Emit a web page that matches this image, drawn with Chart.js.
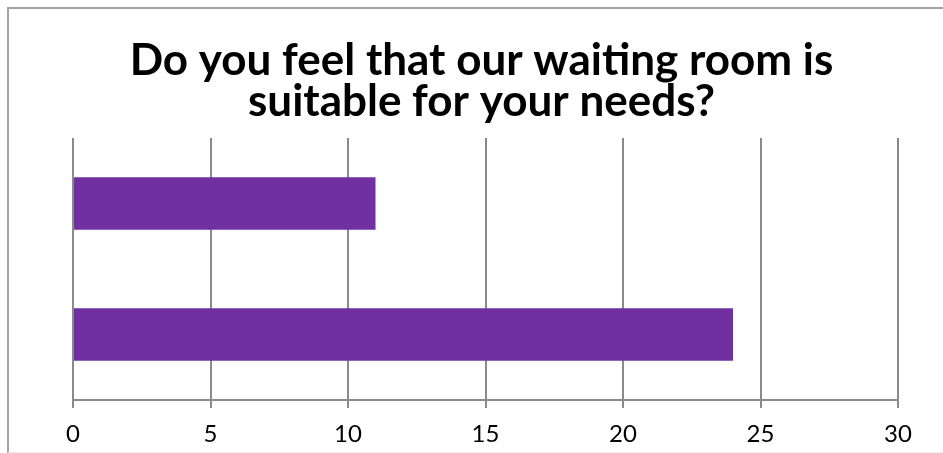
<!DOCTYPE html>
<html>
<head>
<meta charset="utf-8">
<script src="https://cdn.jsdelivr.net/npm/chart.js@4.4.1/dist/chart.umd.min.js"></script>
<style>
  html, body { margin: 0; padding: 0; background: #fff; }
  #wrap { position: relative; width: 943px; height: 453px; overflow: hidden; }
  #frame {
    position: absolute; left: 7px; top: 7px; width: 1000px; height: 443px;
    border-left: 2px solid #a3a3a3; border-top: 2px solid #a3a3a3;
    border-bottom: 1px solid #ececec; pointer-events: none;
  }
  canvas { position: absolute; left: 0; top: 0; }
</style>
</head>
<body>
<div id="wrap">
  <canvas id="chart" width="943" height="453"></canvas>
  <div id="frame"></div>
</div>
<script>
// Survey answers (category labels are not shown on the axis)
const categories = ['', ''];
const responses = [11, 24];
const titleLines = ['Do you feel that our waiting room is', 'suitable for your needs?'];
const axisMin = 0;
const axisMax = 30;
const axisStep = 5;

const gridColor = '#8a8a8a';

new Chart(document.getElementById('chart'), {
  type: 'bar',
  data: {
    labels: categories,
    datasets: [{
      data: responses,
      backgroundColor: '#7030A0',
      borderWidth: 0,
      barPercentage: 0.4,
      categoryPercentage: 1.0
    }]
  },
  options: {
    indexAxis: 'y',
    responsive: false,
    animation: false,
    events: [],
    layout: { padding: { left: 65, right: 45, top: 0, bottom: 0 } },
    plugins: {
      legend: { display: false },
      tooltip: { enabled: false },
      title: {
        display: true,
        text: titleLines,
        color: '#000',
        font: { family: 'Lato', weight: 'bold', size: 44, lineHeight: '41px' },
        padding: { top: 40, bottom: 16 }
      }
    },
    scales: {
      x: {
        position: 'bottom',
        min: axisMin,
        max: axisMax,
        ticks: {
          stepSize: axisStep,
          color: '#000',
          padding: 12,
          font: { family: 'Lato', size: 24 }
        },
        grid: { color: gridColor, lineWidth: 2, tickLength: 8, drawTicks: true },
        border: { display: true, color: gridColor, width: 2 },
        afterFit: (scale) => { scale.height = 53; }
      },
      y: {
        ticks: { display: false },
        grid: { display: false },
        border: { display: false },
        afterFit: (scale) => { scale.width = 8; }
      }
    }
  }
});
</script>
</body>
</html>
